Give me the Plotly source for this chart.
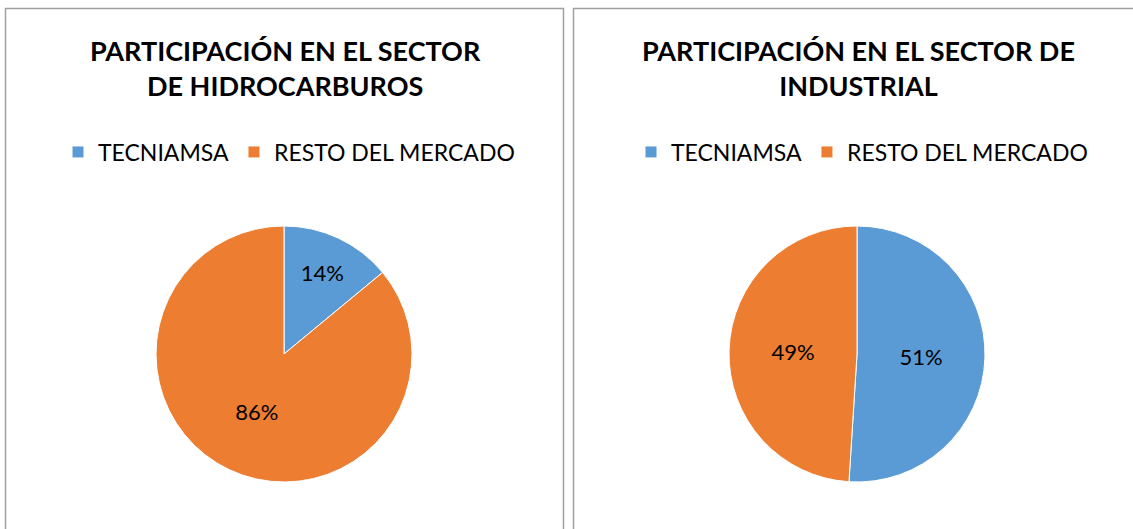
import plotly.graph_objects as go

labels = ["TECNIAMSA", "RESTO DEL MERCADO"]
hidro_values = [14, 86]
industrial_values = [51, 49]
titles = ["PARTICIPACIÓN EN EL SECTOR<br>DE HIDROCARBUROS",
          "PARTICIPACIÓN EN EL SECTOR DE<br>INDUSTRIAL"]
colors = ["#5B9BD5", "#ED7D31"]

W, H = 1133, 529
FONT = "Lato"

def px_x(x):
    return x / W

def px_y(y):
    return 1 - y / H

# zero-width space keeps the second chart's legend entries distinct from the first
labels_right = [l + "\u200b" for l in labels]

fig = go.Figure()

fig.add_trace(go.Pie(
    labels=labels, values=hidro_values, sort=False, direction="clockwise", rotation=0,
    marker=dict(colors=colors, line=dict(color="white", width=1)),
    textinfo="percent", textposition="inside", insidetextorientation="horizontal",
    textfont=dict(size=22, color="#000000", family=FONT),
    domain=dict(x=[px_x(156), px_x(412)], y=[px_y(482), px_y(226)]),
    legend="legend", hoverinfo="label+percent",
))
fig.add_trace(go.Pie(
    labels=labels_right, values=industrial_values, sort=False, direction="clockwise", rotation=0,
    marker=dict(colors=colors, line=dict(color="white", width=1)),
    textinfo="percent", textposition="inside", insidetextorientation="horizontal",
    textfont=dict(size=22, color="#000000", family=FONT),
    domain=dict(x=[px_x(729), px_x(985)], y=[px_y(482), px_y(226)]),
    legend="legend2", hoverinfo="label+percent",
))

legend_common = dict(orientation="h", xanchor="center", yanchor="middle",
                     font=dict(size=23, family=FONT, color="#000000"),
                     bgcolor="rgba(0,0,0,0)", itemclick=False, itemdoubleclick=False)

fig.update_layout(
    width=W, height=H,
    margin=dict(l=0, r=0, t=0, b=0),
    paper_bgcolor="white",
    legend=dict(x=px_x(289), y=px_y(152), **legend_common),
    legend2=dict(x=px_x(862), y=px_y(152), **legend_common),
    shapes=[
        dict(type="rect", xref="paper", yref="paper",
             x0=px_x(5.5), x1=px_x(563.5), y0=px_y(540), y1=px_y(8.5),
             line=dict(color="#A0A0A0", width=1.5), fillcolor="rgba(0,0,0,0)", layer="below"),
        dict(type="rect", xref="paper", yref="paper",
             x0=px_x(573.5), x1=px_x(1145), y0=px_y(540), y1=px_y(8.5),
             line=dict(color="#A0A0A0", width=1.5), fillcolor="rgba(0,0,0,0)", layer="below"),
    ],
    annotations=[
        dict(text="<b>" + titles[0] + "</b>", xref="paper", yref="paper",
             x=px_x(285), y=px_y(68), xanchor="center", yanchor="middle", showarrow=False,
             font=dict(size=27, family=FONT, color="#000000")),
        dict(text="<b>" + titles[1] + "</b>", xref="paper", yref="paper",
             x=px_x(858), y=px_y(68), xanchor="center", yanchor="middle", showarrow=False,
             font=dict(size=27, family=FONT, color="#000000")),
    ],
)

fig.write_html("out.html", config={"displayModeBar": False},
               post_script="document.body.style.margin='0';document.body.style.overflow='hidden';")
